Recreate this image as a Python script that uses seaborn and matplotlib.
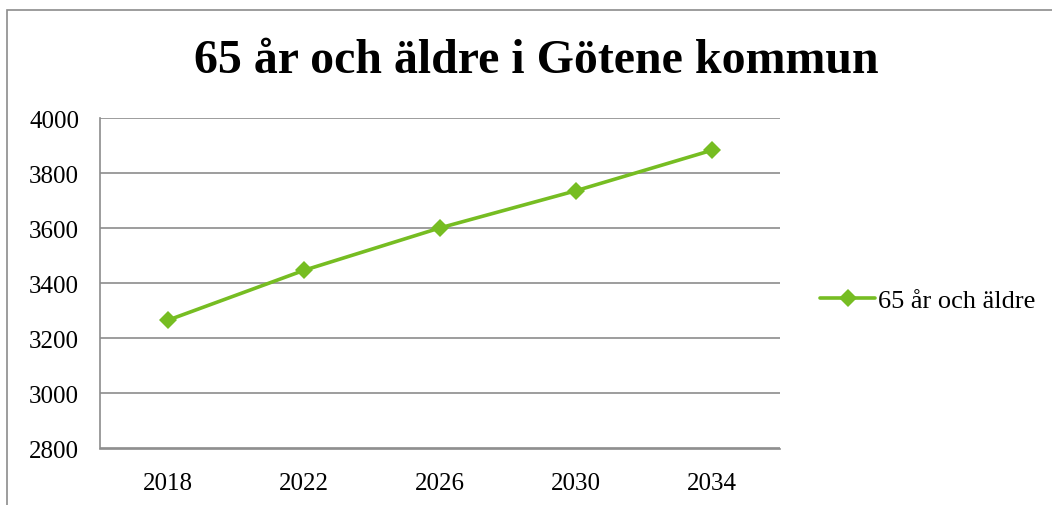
import matplotlib
matplotlib.use('Agg')
import matplotlib.pyplot as plt
import seaborn as sns
import pandas as pd
from matplotlib.patches import Rectangle

years = ['2018', '2022', '2026', '2030', '2034']
values = [3266, 3447, 3601, 3736, 3883]
series_name = '65 år och äldre'
title = '65 år och äldre i Götene kommun'

GREEN = '#76BD22'
GRID = '#8C8C8C'

sns.set_style('white')
plt.rcParams['font.family'] = ['Liberation Serif', 'DejaVu Serif']
plt.rcParams['text.color'] = 'black'
plt.rcParams['xtick.color'] = 'black'
plt.rcParams['ytick.color'] = 'black'

df = pd.DataFrame({'year': years, 'value': values, 'serie': series_name})
df['pos'] = range(len(years))

fig = plt.figure(figsize=(10.52, 5.06), dpi=100)
ax = fig.add_axes([100 / 1052, 1 - 449.5 / 506, 680 / 1052, 330.5 / 506])

sns.lineplot(data=df, x='pos', y='value', hue='serie', palette=[GREEN],
             marker='D', markersize=9, markeredgewidth=0, linewidth=2.6,
             ax=ax)

ax.set_xlim(-0.5, len(years) - 0.5)
ax.set_ylim(2800, 4000)
ax.set_yticks(range(2800, 4001, 200))
ax.set_xticks(range(len(years)))
ax.set_xticklabels(years)
ax.set_xticks([i - 0.5 for i in range(len(years) + 1)], minor=True)
ax.tick_params(axis='x', which='major', length=0, pad=17, labelsize=18,
               labelcolor='black')
ax.tick_params(axis='x', which='minor', length=7, width=1.1, color=GRID)
ax.tick_params(axis='y', length=6, width=1.1, color=GRID, pad=9,
               labelsize=18, labelcolor='black')
ax.set_xlabel('')
ax.set_ylabel('')
ax.yaxis.grid(True, color=GRID, linewidth=1.2)
ax.xaxis.grid(False)
for side in ['top', 'right']:
    ax.spines[side].set_visible(False)
for side in ['left', 'bottom']:
    ax.spines[side].set_color(GRID)
    ax.spines[side].set_linewidth(1.2)

leg = ax.legend(loc='center left', bbox_to_anchor=(820 / 1052, 1 - 301 / 506),
                bbox_transform=fig.transFigure, frameon=False,
                fontsize=19, handlelength=2.1, handletextpad=0.1,
                borderaxespad=0, borderpad=0)
for t in leg.get_texts():
    t.set_color('black')

fig.text(536 / 1052, 1 - 61 / 506, title, ha='center', va='center',
         fontsize=34.5, fontweight='bold', color='black')

# outer chart frame (Excel style)
fig.patches.append(Rectangle((6.5 / 1052, -0.1), 1.2, 1.1 - 10.5 / 506,
                             transform=fig.transFigure, fill=False,
                             edgecolor='#8C8C8C', linewidth=1.2))

fig.savefig('out.png', dpi=100)
